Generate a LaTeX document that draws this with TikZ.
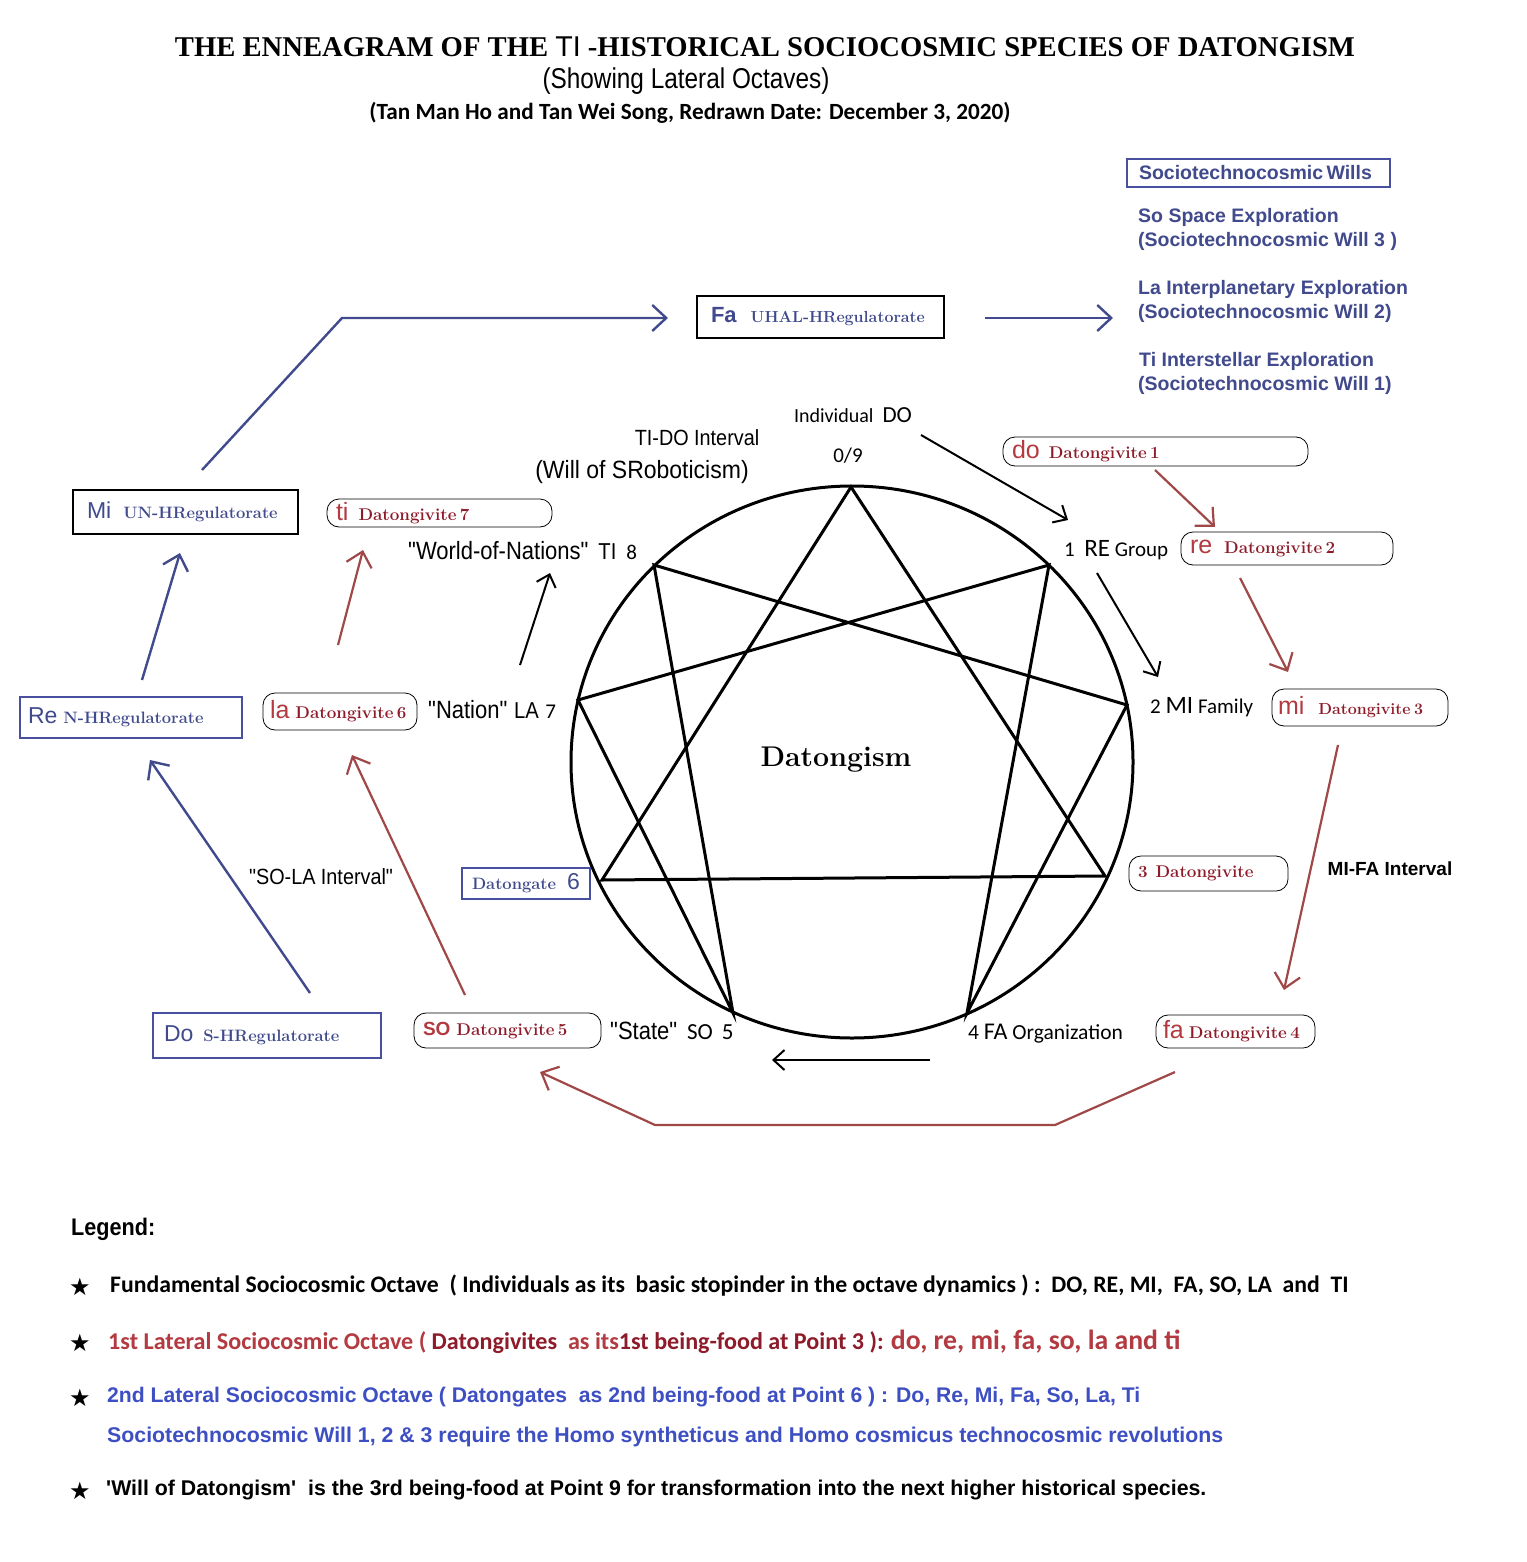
\documentclass[tikz,border=0pt]{standalone}
\usepackage{fontspec}
\usepackage{graphicx}
\usetikzlibrary{arrows.meta}
\newfontfamily\arl{Liberation Sans}
\newfontfamily\lsf{Liberation Serif}
\newfontfamily\cbr{Carlito}
\newfontfamily\djv{DejaVu Sans}
\definecolor{dred}{HTML}{8E1B2A}
\definecolor{lred}{HTML}{B23A40}
\definecolor{ared}{HTML}{A04848}
\definecolor{nblue}{HTML}{404A8C}
\definecolor{bblue}{HTML}{4A50A0}
\definecolor{lblue}{HTML}{3D4FC2}
\newcommand\fs[1]{\fontsize{#1}{#1}\selectfont}
\newcommand\nar[2][0.88]{\scalebox{#1}[1]{#2}}
\newcommand\fitw[2]{\resizebox{#1pt}{!}{#2}}
\tikzset{
  en/.style={line width=3pt, line join=miter},
  blkarr/.style={line width=2pt, -{Straight Barb[length=11pt,width=20pt]}},
  redarr/.style={draw=ared, line width=2.2pt, -{Straight Barb[length=14pt,width=26pt]}},
  bluarr/.style={draw=nblue, line width=2.4pt, -{Straight Barb[length=14pt,width=26pt]}},
  redbox/.style={draw=black, line width=0.8pt, rounded corners=12pt, inner xsep=9pt, inner ysep=0pt, align=left},
  blubox/.style={draw=bblue, line width=1.1pt, inner xsep=12pt, inner ysep=0pt, align=left},
  lbl/.style={inner sep=0pt, anchor=west},
  bt/.style={text=nblue, font=\arl\bfseries\fs{19.5}, inner sep=0pt, anchor=west},
  star/.style={font=\djv\fs{24}, inner sep=0pt}
}
\begin{document}
\begin{tikzpicture}[x=1pt,y=-1pt]
\useasboundingbox[fill=white] (0,0) rectangle (1526,1562);

% ---------- title ----------
\node[inner sep=0pt] (title) at (765,47) {\fitw{1180}{\lsf\bfseries THE ENNEAGRAM OF THE {\arl\mdseries TI} -HISTORICAL SOCIOCOSMIC SPECIES OF DATONGISM}};
\node[inner sep=0pt] (sub1) at (686,81) {\fitw{287}{\nar[0.85]{\arl (Showing Lateral Octaves)}}};
\node[inner sep=0pt] (sub2) at (690,113) {\fitw{641}{\cbr\bfseries (Tan Man Ho and Tan Wei Song, Redrawn Date: December 3, 2020)}};

% ---------- enneagram ----------
\coordinate (cc) at (852,762);
\coordinate (p0) at (851,487);
\coordinate (p1) at (1049,565);
\coordinate (p2) at (1127,705);
\coordinate (p3) at (1105,876);
\coordinate (p4) at (967,1013);
\coordinate (p5) at (733,1013);
\coordinate (p6) at (602,880);
\coordinate (p7) at (578,700);
\coordinate (p8) at (654,565);
\draw[en] (cc) ellipse [x radius=281pt, y radius=276pt];
\draw[en] (p0) -- (p3) -- (p6) -- cycle;
\draw[en] (p1) -- (p4) -- (p2) -- (p8) -- (p5) -- (p7) -- cycle;
\node[inner sep=0pt] (dtg) at (836,760) {\bfseries\fs{28.5}Datongism};

% ---------- point labels ----------
\node[inner sep=0pt] (ldo) at (853,415) {\cbr\fs{20}Individual\ \ {\fs{23}DO}};
\node[inner sep=0pt] (l09) at (848,456) {\cbr\fs{21}0/9};
\node[lbl] (l1) at (1064,550) {\cbr\fs{21}1\ \ {\fs{25}RE} Group};
\node[lbl] (l2) at (1150,707) {\cbr\fs{21}2 {\fs{25}MI} Family};
\node[lbl] (l4) at (968,1034) {\cbr\fs{21.5}4 {\fs{24}FA} Organization};
\node[lbl] (l5) at (610,1031) {\nar{\arl\fs{25}"State"}\ \ \ {\cbr\fs{23}SO\,\ 5}};
\node[lbl] (l7) at (428,710) {\nar{\arl\fs{25}"Nation"}\ \ {\arl\fs{23}\nar{LA}}\ \ {\cbr\fs{21}7}};
\node[lbl] (l8) at (408,551) {\nar{\arl\fs{25}"World-of-Nations"}\ \ \ {\arl\fs{23}\nar{TI}}\ \ \ {\cbr\fs{21}8}};
\node[inner sep=0pt] (tido) at (697,438) {\nar[0.9]{\arl\fs{22}TI-DO Interval}};
\node[inner sep=0pt] (wsr) at (642,472) {\nar[0.92]{\arl\fs{25}(Will of SRoboticism)}};
\node[inner sep=0pt] (mifa) at (1390,869) {\arl\bfseries\fs{19}MI-FA Interval};
\node[inner sep=0pt] (sola) at (321,877) {\nar[0.9]{\arl\fs{22}"SO-LA Interval"}};

% ---------- black arrows ----------
\coordinate (a1s) at (921,435); \coordinate (a1e) at (1068,520);
\coordinate (a2s) at (1097,573); \coordinate (a2e) at (1158,677);
\coordinate (a3s) at (930,1060); \coordinate (a3e) at (772,1060);
\coordinate (a4s) at (520,665); \coordinate (a4e) at (550,573);
\draw[blkarr] (a1s) -- (a1e);
\draw[blkarr] (a2s) -- (a2e);
\draw[blkarr] (a3s) -- (a3e);
\draw[blkarr] (a4s) -- (a4e);

% ---------- red (Datongivite) boxes ----------
\node[redbox, text width=287pt, minimum height=29pt] (d1) at (1155.5,451.5) {\mbox{\textcolor{lred}{\arl\fs{25}do}\hspace{9pt}\textcolor{dred}{\bfseries\fs{17}Datongivite 1}}};
\node[redbox, text width=194pt, minimum height=33pt] (d2) at (1287,548.5) {\mbox{\textcolor{lred}{\arl\fs{25}re}\hspace{12pt}\textcolor{dred}{\bfseries\fs{17}Datongivite 2}}};
\node[redbox, text width=164pt, minimum height=37pt, inner xsep=6pt] (d3) at (1360,707.5) {\mbox{\textcolor{lred}{\arl\fs{25}mi}\hspace{14pt}\textcolor{dred}{\bfseries\fs{16}Datongivite 3}}};
\node[redbox, text width=141pt, minimum height=35pt] (d3b) at (1208.5,873.5) {\mbox{\textcolor{dred}{\bfseries\fs{17}3\hspace{8pt}Datongivite}}};
\node[redbox, text width=145pt, minimum height=33pt, inner xsep=7pt] (d4) at (1235.5,1031.5) {\mbox{\textcolor{lred}{\arl\fs{25}fa}\hspace{5pt}\textcolor{dred}{\bfseries\fs{17}Datongivite 4}}};
\node[redbox, text width=169pt, minimum height=35pt] (d5) at (507.5,1030.5) {\mbox{\textcolor{lred}{\arl\bfseries\fs{19}SO}\hspace{6pt}\textcolor{dred}{\bfseries\fs{17}Datongivite 5}}};
\node[redbox, text width=140pt, minimum height=37pt, inner xsep=7pt] (d6) at (340,711.5) {\mbox{\textcolor{lred}{\arl\fs{25}la}\hspace{6pt}\textcolor{dred}{\bfseries\fs{17}Datongivite 6}}};
\node[redbox, text width=207pt, minimum height=28pt] (d7) at (439.5,513) {\mbox{\textcolor{lred}{\arl\fs{25}ti}\hspace{10pt}\textcolor{dred}{\bfseries\fs{17}Datongivite 7}}};

% ---------- blue (Regulatorate) boxes ----------
\node[blubox, text width=239pt, minimum height=28pt, inner xsep=12pt] (wills) at (1258.5,173) {\mbox{\textcolor{nblue}{\arl\bfseries\fs{19.5}Sociotechnocosmic Wills}}};
\node[blubox, draw=black, text width=219pt, minimum height=42pt, inner xsep=14pt] (bfa) at (820.5,317) {\mbox{\textcolor{nblue}{\arl\bfseries\fs{22}Fa}\hspace{14pt}\textcolor{nblue}{\bfseries\fs{16}UHAL-HRegulatorate}}};
\node[blubox, draw=black, text width=197pt, minimum height=44pt, inner xsep=14pt] (bmi) at (185.5,512) {\mbox{\textcolor{nblue}{\arl\fs{23}Mi}\hspace{12pt}\textcolor{nblue}{\bfseries\fs{16.5}UN-HRegulatorate}}};
\node[blubox, text width=206pt, minimum height=41pt, inner xsep=8pt] (bre) at (131,717.5) {\mbox{\textcolor{nblue}{\arl\fs{23}Re}\hspace{6pt}\textcolor{nblue}{\bfseries\fs{16.5}N-HRegulatorate}}};
\node[blubox, text width=206pt, minimum height=45pt, inner xsep=11pt] (bdo) at (267,1035.5) {\mbox{\textcolor{nblue}{\arl\fs{23}Do}\hspace{10pt}\textcolor{nblue}{\bfseries\fs{16.5}S-HRegulatorate}}};
\node[blubox, text width=108pt, minimum height=31pt, inner xsep=10pt] (bgate) at (526,883.5) {\textcolor{nblue}{\bfseries\fs{16.5}Datongate}\hfill\textcolor{nblue}{\arl\fs{23}6}};

% ---------- Sociotechnocosmic wills text ----------
\node[bt] (w3a) at (1138,217) {So Space Exploration};
\node[bt] (w3b) at (1138,241) {(Sociotechnocosmic Will 3 )};
\node[bt] (w2a) at (1138,289) {La Interplanetary Exploration};
\node[bt] (w2b) at (1138,313) {(Sociotechnocosmic Will 2)};
\node[bt] (w1a) at (1139,361) {Ti Interstellar Exploration};
\node[bt] (w1b) at (1138,385) {(Sociotechnocosmic Will 1)};

% ---------- red arrows ----------
\coordinate (r1s) at (1155,470); \coordinate (r1e) at (1215,527);
\coordinate (r2s) at (1240,578); \coordinate (r2e) at (1288,672);
\coordinate (r3s) at (1338,745); \coordinate (r3e) at (1284,990);
\coordinate (r4s) at (1175,1072); \coordinate (r4a) at (1055,1125);
\coordinate (r4b) at (655,1125); \coordinate (r4e) at (540,1072);
\coordinate (r5s) at (465,995); \coordinate (r5e) at (352,755);
\coordinate (r6s) at (338,645); \coordinate (r6e) at (363,550);
\draw[redarr] (r1s) -- (r1e);
\draw[redarr] (r2s) -- (r2e);
\draw[redarr] (r3s) -- (r3e);
\draw[redarr] (r4s) -- (r4a) -- (r4b) -- (r4e);
\draw[redarr] (r5s) -- (r5e);
\draw[redarr] (r6s) -- (r6e);

% ---------- blue arrows ----------
\coordinate (b1s) at (310,993); \coordinate (b1e) at (150,760);
\coordinate (b2s) at (142,680); \coordinate (b2e) at (180,553);
\coordinate (b3s) at (202,470); \coordinate (b3a) at (342,318); \coordinate (b3e) at (668,318);
\coordinate (b4s) at (985,318); \coordinate (b4e) at (1113,318);
\draw[bluarr] (b1s) -- (b1e);
\draw[bluarr] (b2s) -- (b2e);
\draw[bluarr] (b3s) -- (b3a) -- (b3e);
\draw[bluarr] (b4s) -- (b4e);

% ---------- legend ----------
\node[lbl] (leg) at (71,1229) {\nar[0.9]{\arl\bfseries\fs{24}Legend:}};
\node[star] (s1) at (80,1287) {★};
\node[star] (s2) at (80,1343) {★};
\node[star] (s3) at (80,1398) {★};
\node[star] (s4) at (80,1491) {★};
\node[lbl] (lg1) at (110,1286) {\fitw{1238}{\cbr\bfseries Fundamental Sociocosmic Octave\ \ ( Individuals as its\ \ basic stopinder in the octave dynamics ) :\ \ DO, RE, MI,\ \ FA, SO, LA\ \ and\ \ TI}};
\node[lbl] (lg2) at (108,1342) {\fitw{1072}{\cbr\bfseries\textcolor{lred}{1st Lateral Sociocosmic Octave (} \textcolor{dred}{Datongivites}\ \ \textcolor{lred}{as its}\textcolor{dred}{1st being-food at Point 3 ):} \textcolor{lred}{\fs{11.5}do, re, mi, fa, so, la and ti}}};
\node[lbl] (lg3) at (107,1397) {\fitw{1033}{\arl\bfseries\textcolor{lblue}{2nd Lateral Sociocosmic Octave ( Datongates\ \ as 2nd being-food at Point 6 ) : Do, Re, Mi, Fa, So, La, Ti}}};
\node[lbl] (lg4) at (107,1437) {\fitw{1116}{\arl\bfseries\textcolor{lblue}{Sociotechnocosmic Will 1, 2 \& 3 require the Homo syntheticus and Homo cosmicus technocosmic revolutions}}};
\node[lbl] (lg5) at (106,1490) {\fitw{1100}{\arl\bfseries 'Will of Datongism'\ \ is the 3rd being-food at Point 9 for transformation into the next higher historical species.}};
\end{tikzpicture}
\end{document}
